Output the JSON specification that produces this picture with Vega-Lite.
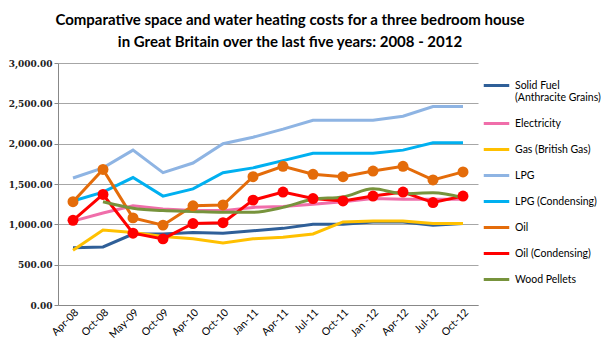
{
  "$schema": "https://vega.github.io/schema/vega-lite/v6.json",
  "width": 420,
  "height": 242,
  "autosize": {"type": "none"},
  "padding": {"left": 58, "top": 63, "right": 123, "bottom": 52},
  "background": "white",
  "title": {
    "text": ["Comparative space and water heating costs for a three bedroom house", "in Great Britain over the last five years: 2008 - 2012"],
    "font": "Lato",
    "fontSize": 15,
    "fontWeight": "bold",
    "color": "black",
    "anchor": "middle",
    "dx": 22,
    "offset": 9,
    "lineHeight": 22
  },
  "data": {
    "values": [
      {"date": "Apr-08", "series": "Solid Fuel (Anthracite Grains)", "value": 710},
      {"date": "Oct-08", "series": "Solid Fuel (Anthracite Grains)", "value": 720},
      {"date": "May-09", "series": "Solid Fuel (Anthracite Grains)", "value": 880},
      {"date": "Oct-09", "series": "Solid Fuel (Anthracite Grains)", "value": 880},
      {"date": "Apr-10", "series": "Solid Fuel (Anthracite Grains)", "value": 900},
      {"date": "Oct-10", "series": "Solid Fuel (Anthracite Grains)", "value": 890},
      {"date": "Jan-11", "series": "Solid Fuel (Anthracite Grains)", "value": 920},
      {"date": "Apr-11", "series": "Solid Fuel (Anthracite Grains)", "value": 950},
      {"date": "Jul-11", "series": "Solid Fuel (Anthracite Grains)", "value": 1000},
      {"date": "Oct-11", "series": "Solid Fuel (Anthracite Grains)", "value": 1000},
      {"date": "Jan -12", "series": "Solid Fuel (Anthracite Grains)", "value": 1030},
      {"date": "Apr-12", "series": "Solid Fuel (Anthracite Grains)", "value": 1030},
      {"date": "Jul-12", "series": "Solid Fuel (Anthracite Grains)", "value": 990},
      {"date": "Oct-12", "series": "Solid Fuel (Anthracite Grains)", "value": 1010},

      {"date": "Apr-08", "series": "Electricity", "value": 1040},
      {"date": "Oct-08", "series": "Electricity", "value": 1140},
      {"date": "May-09", "series": "Electricity", "value": 1230},
      {"date": "Oct-09", "series": "Electricity", "value": 1190},
      {"date": "Apr-10", "series": "Electricity", "value": 1170},
      {"date": "Oct-10", "series": "Electricity", "value": 1170},
      {"date": "Jan-11", "series": "Electricity", "value": 1210},
      {"date": "Apr-11", "series": "Electricity", "value": 1220},
      {"date": "Jul-11", "series": "Electricity", "value": 1250},
      {"date": "Oct-11", "series": "Electricity", "value": 1280},
      {"date": "Jan -12", "series": "Electricity", "value": 1320},
      {"date": "Apr-12", "series": "Electricity", "value": 1310},
      {"date": "Jul-12", "series": "Electricity", "value": 1310},
      {"date": "Oct-12", "series": "Electricity", "value": 1310},

      {"date": "Apr-08", "series": "Gas (British Gas)", "value": 680},
      {"date": "Oct-08", "series": "Gas (British Gas)", "value": 930},
      {"date": "May-09", "series": "Gas (British Gas)", "value": 900},
      {"date": "Oct-09", "series": "Gas (British Gas)", "value": 850},
      {"date": "Apr-10", "series": "Gas (British Gas)", "value": 820},
      {"date": "Oct-10", "series": "Gas (British Gas)", "value": 770},
      {"date": "Jan-11", "series": "Gas (British Gas)", "value": 820},
      {"date": "Apr-11", "series": "Gas (British Gas)", "value": 840},
      {"date": "Jul-11", "series": "Gas (British Gas)", "value": 880},
      {"date": "Oct-11", "series": "Gas (British Gas)", "value": 1030},
      {"date": "Jan -12", "series": "Gas (British Gas)", "value": 1040},
      {"date": "Apr-12", "series": "Gas (British Gas)", "value": 1040},
      {"date": "Jul-12", "series": "Gas (British Gas)", "value": 1010},
      {"date": "Oct-12", "series": "Gas (British Gas)", "value": 1010},

      {"date": "Apr-08", "series": "LPG", "value": 1574},
      {"date": "Oct-08", "series": "LPG", "value": 1700},
      {"date": "May-09", "series": "LPG", "value": 1920},
      {"date": "Oct-09", "series": "LPG", "value": 1640},
      {"date": "Apr-10", "series": "LPG", "value": 1760},
      {"date": "Oct-10", "series": "LPG", "value": 2000},
      {"date": "Jan-11", "series": "LPG", "value": 2080},
      {"date": "Apr-11", "series": "LPG", "value": 2180},
      {"date": "Jul-11", "series": "LPG", "value": 2290},
      {"date": "Oct-11", "series": "LPG", "value": 2290},
      {"date": "Jan -12", "series": "LPG", "value": 2290},
      {"date": "Apr-12", "series": "LPG", "value": 2340},
      {"date": "Jul-12", "series": "LPG", "value": 2460},
      {"date": "Oct-12", "series": "LPG", "value": 2460},

      {"date": "Apr-08", "series": "LPG (Condensing)", "value": 1290},
      {"date": "Oct-08", "series": "LPG (Condensing)", "value": 1400},
      {"date": "May-09", "series": "LPG (Condensing)", "value": 1580},
      {"date": "Oct-09", "series": "LPG (Condensing)", "value": 1350},
      {"date": "Apr-10", "series": "LPG (Condensing)", "value": 1440},
      {"date": "Oct-10", "series": "LPG (Condensing)", "value": 1640},
      {"date": "Jan-11", "series": "LPG (Condensing)", "value": 1700},
      {"date": "Apr-11", "series": "LPG (Condensing)", "value": 1790},
      {"date": "Jul-11", "series": "LPG (Condensing)", "value": 1880},
      {"date": "Oct-11", "series": "LPG (Condensing)", "value": 1880},
      {"date": "Jan -12", "series": "LPG (Condensing)", "value": 1880},
      {"date": "Apr-12", "series": "LPG (Condensing)", "value": 1920},
      {"date": "Jul-12", "series": "LPG (Condensing)", "value": 2010},
      {"date": "Oct-12", "series": "LPG (Condensing)", "value": 2010},

      {"date": "Apr-08", "series": "Oil", "value": 1280},
      {"date": "Oct-08", "series": "Oil", "value": 1680},
      {"date": "May-09", "series": "Oil", "value": 1080},
      {"date": "Oct-09", "series": "Oil", "value": 990},
      {"date": "Apr-10", "series": "Oil", "value": 1230},
      {"date": "Oct-10", "series": "Oil", "value": 1240},
      {"date": "Jan-11", "series": "Oil", "value": 1590},
      {"date": "Apr-11", "series": "Oil", "value": 1720},
      {"date": "Jul-11", "series": "Oil", "value": 1620},
      {"date": "Oct-11", "series": "Oil", "value": 1590},
      {"date": "Jan -12", "series": "Oil", "value": 1660},
      {"date": "Apr-12", "series": "Oil", "value": 1720},
      {"date": "Jul-12", "series": "Oil", "value": 1550},
      {"date": "Oct-12", "series": "Oil", "value": 1650},

      {"date": "Apr-08", "series": "Oil (Condensing)", "value": 1050},
      {"date": "Oct-08", "series": "Oil (Condensing)", "value": 1370},
      {"date": "May-09", "series": "Oil (Condensing)", "value": 890},
      {"date": "Oct-09", "series": "Oil (Condensing)", "value": 820},
      {"date": "Apr-10", "series": "Oil (Condensing)", "value": 1010},
      {"date": "Oct-10", "series": "Oil (Condensing)", "value": 1020},
      {"date": "Jan-11", "series": "Oil (Condensing)", "value": 1300},
      {"date": "Apr-11", "series": "Oil (Condensing)", "value": 1400},
      {"date": "Jul-11", "series": "Oil (Condensing)", "value": 1320},
      {"date": "Oct-11", "series": "Oil (Condensing)", "value": 1290},
      {"date": "Jan -12", "series": "Oil (Condensing)", "value": 1350},
      {"date": "Apr-12", "series": "Oil (Condensing)", "value": 1400},
      {"date": "Jul-12", "series": "Oil (Condensing)", "value": 1270},
      {"date": "Oct-12", "series": "Oil (Condensing)", "value": 1350},

      {"date": "Oct-08", "series": "Wood Pellets", "value": 1280},
      {"date": "May-09", "series": "Wood Pellets", "value": 1200},
      {"date": "Oct-09", "series": "Wood Pellets", "value": 1170},
      {"date": "Apr-10", "series": "Wood Pellets", "value": 1160},
      {"date": "Oct-10", "series": "Wood Pellets", "value": 1150},
      {"date": "Jan-11", "series": "Wood Pellets", "value": 1150},
      {"date": "Apr-11", "series": "Wood Pellets", "value": 1210},
      {"date": "Jul-11", "series": "Wood Pellets", "value": 1310},
      {"date": "Oct-11", "series": "Wood Pellets", "value": 1340},
      {"date": "Jan -12", "series": "Wood Pellets", "value": 1440},
      {"date": "Apr-12", "series": "Wood Pellets", "value": 1380},
      {"date": "Jul-12", "series": "Wood Pellets", "value": 1390},
      {"date": "Oct-12", "series": "Wood Pellets", "value": 1330}
    ]
  },
  "encoding": {
    "x": {
      "field": "date",
      "type": "ordinal",
      "sort": null,
      "scale": {"type": "point", "padding": 0.5},
      "axis": {
        "title": null,
        "labelAngle": -45,
        "labelFont": "Lato",
        "labelFontSize": 10.5,
        "labelColor": "black",
        "domainColor": "#888888",
        "ticks": false,
        "grid": false
      }
    },
    "y": {
      "field": "value",
      "type": "quantitative",
      "scale": {"domain": [0, 3000]},
      "axis": {
        "title": null,
        "values": [0, 500, 1000, 1500, 2000, 2500, 3000],
        "format": ",.2f",
        "labelFont": "DejaVu Serif",
        "labelFontSize": 9,
        "labelFontWeight": "bold",
        "labelColor": "#222222",
        "gridColor": "#a6a6a6",
        "domainColor": "#888888",
        "tickColor": "#888888",
        "tickSize": 4
      }
    },
    "color": {
      "field": "series",
      "type": "nominal",
      "scale": {
        "domain": ["Solid Fuel (Anthracite Grains)", "Electricity", "Gas (British Gas)", "LPG", "LPG (Condensing)", "Oil", "Oil (Condensing)", "Wood Pellets"],
        "range": ["#2F5F98", "#F06EAA", "#FFC000", "#8EB4E3", "#00B0F0", "#E46C0A", "#FF0000", "#77933C"]
      },
      "legend": {
        "title": null,
        "orient": "none",
        "legendX": 424,
        "legendY": 8,
        "symbolType": "stroke",
        "symbolStrokeWidth": 3,
        "symbolSize": 650,
        "labelFont": "Lato",
        "labelFontSize": 10.5,
        "labelColor": "black",
        "labelLimit": 200,
        "labelOffset": 4,
        "rowPadding": 5,
        "labelExpr": "datum.label == 'Solid Fuel (Anthracite Grains)' ? ['Solid Fuel', '(Anthracite Grains)'] : datum.label"
      }
    }
  },
  "layer": [
    {
      "transform": [{"filter": "datum.series != 'Wood Pellets'"}],
      "mark": {"type": "line", "strokeWidth": 3}
    },
    {
      "transform": [{"filter": "datum.series == 'Wood Pellets'"}],
      "mark": {"type": "line", "strokeWidth": 3, "interpolate": "monotone"}
    },
    {
      "transform": [{"filter": "datum.series == 'Oil' || datum.series == 'Oil (Condensing)'"}],
      "mark": {"type": "point", "filled": true, "opacity": 1, "size": 120}
    }
  ],
  "config": {
    "view": {"stroke": null}
  }
}
